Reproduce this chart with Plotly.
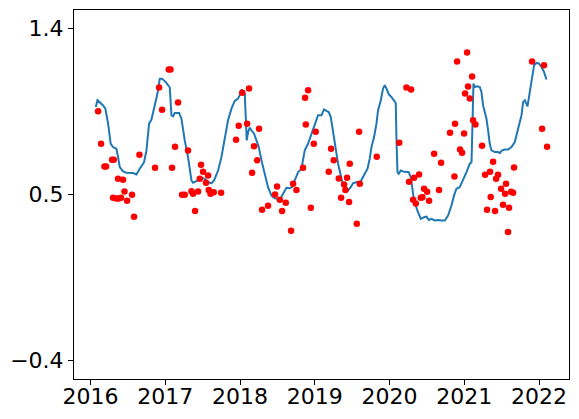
import plotly.graph_objects as go

# Smoothed series (decimal years)
line_x = [2016.071, 2016.094, 2016.169, 2016.200, 2016.236, 2016.271, 2016.302, 2016.347, 2016.369, 2016.392,
          2016.436, 2016.481, 2016.570, 2016.615, 2016.659, 2016.717, 2016.749, 2016.784, 2016.816, 2016.860,
          2016.896, 2016.927, 2016.958, 2017.016, 2017.061, 2017.083, 2017.105, 2017.127, 2017.185, 2017.217,
          2017.261, 2017.305, 2017.351, 2017.372, 2017.439, 2017.484, 2017.529, 2017.573, 2017.618, 2017.653,
          2017.707, 2017.752, 2017.796, 2017.840, 2017.886, 2017.930, 2017.974, 2017.997, 2018.020, 2018.041,
          2018.064, 2018.077, 2018.090, 2018.108, 2018.131, 2018.153, 2018.188, 2018.220, 2018.251, 2018.287,
          2018.331, 2018.375, 2018.421, 2018.465, 2018.509, 2018.545, 2018.576, 2018.621, 2018.665, 2018.696,
          2018.732, 2018.777, 2018.822, 2018.843, 2018.866, 2018.910, 2018.956, 2019.000, 2019.044, 2019.090,
          2019.124, 2019.156, 2019.187, 2019.214, 2019.245, 2019.277, 2019.312, 2019.348, 2019.378, 2019.410,
          2019.445, 2019.481, 2019.512, 2019.558, 2019.602, 2019.633, 2019.669, 2019.705, 2019.735, 2019.758,
          2019.793, 2019.825, 2019.846, 2019.883, 2019.913, 2019.936, 2019.959, 2019.990, 2020.026, 2020.061,
          2020.083, 2020.093, 2020.106, 2020.123, 2020.150, 2020.181, 2020.226, 2020.257, 2020.284, 2020.301,
          2020.328, 2020.373, 2020.418, 2020.462, 2020.494, 2020.525, 2020.561, 2020.605, 2020.649, 2020.694,
          2020.739, 2020.783, 2020.828, 2020.863, 2020.895, 2020.939, 2020.983, 2021.029, 2021.073, 2021.096,
          2021.104, 2021.113, 2021.122, 2021.140, 2021.176, 2021.207, 2021.229, 2021.251, 2021.274, 2021.296,
          2021.318, 2021.340, 2021.363, 2021.407, 2021.451, 2021.474, 2021.505, 2021.541, 2021.585, 2021.631,
          2021.675, 2021.719, 2021.765, 2021.786, 2021.809, 2021.845, 2021.875, 2021.906, 2021.933, 2021.965,
          2021.996, 2022.032, 2022.066, 2022.099]
line_y = [0.974, 1.011, 0.983, 0.965, 0.884, 0.775, 0.757, 0.748, 0.703, 0.648,
          0.625, 0.618, 0.616, 0.609, 0.640, 0.675, 0.739, 0.884, 0.906, 0.983,
          1.047, 1.128, 1.128, 1.105, 1.080, 0.930, 0.924, 0.942, 0.942, 0.911,
          0.793, 0.703, 0.576, 0.564, 0.576, 0.591, 0.585, 0.567, 0.561, 0.576,
          0.630, 0.703, 0.793, 0.902, 0.965, 1.007, 1.020, 1.038, 1.069, 1.056,
          1.047, 0.920, 0.793, 0.838, 0.862, 0.848, 0.830, 0.793, 0.757, 0.685,
          0.612, 0.540, 0.494, 0.480, 0.477, 0.480, 0.504, 0.536, 0.534, 0.540,
          0.576, 0.621, 0.640, 0.685, 0.739, 0.775, 0.830, 0.884, 0.930, 0.930,
          0.961, 0.953, 0.947, 0.920, 0.848, 0.757, 0.667, 0.594, 0.549, 0.531,
          0.522, 0.540, 0.561, 0.567, 0.561, 0.585, 0.612, 0.640, 0.694, 0.757,
          0.811, 0.884, 0.956, 1.011, 1.074, 1.092, 1.074, 1.043, 1.028, 1.011,
          0.996, 0.793, 0.621, 0.612, 0.630, 0.625, 0.623, 0.621, 0.594, 0.540,
          0.467, 0.413, 0.368, 0.377, 0.380, 0.362, 0.368, 0.359, 0.362, 0.359,
          0.359, 0.386, 0.440, 0.495, 0.531, 0.540, 0.576, 0.621, 0.667, 0.675,
          0.793, 0.974, 1.101, 1.083, 1.087, 1.083, 1.056, 0.983, 0.947, 0.911,
          0.848, 0.775, 0.739, 0.730, 0.730, 0.724, 0.739, 0.744, 0.744, 0.757,
          0.784, 0.848, 0.930, 1.001, 1.011, 0.978, 1.047, 1.137, 1.201, 1.213,
          1.210, 1.191, 1.164, 1.123]

# Observations (decimal years)
obs_x = [2016.102, 2016.142, 2016.187, 2016.209, 2016.289, 2016.312, 2016.302, 2016.347, 2016.378, 2016.409,
         2016.369, 2016.436, 2016.455, 2016.490, 2016.556, 2016.583, 2016.655, 2016.864, 2016.918, 2016.958,
         2017.047, 2017.070, 2017.091, 2017.131, 2017.172, 2017.305, 2017.225, 2017.261, 2017.351, 2017.372,
         2017.399, 2017.439, 2017.479, 2017.506, 2017.462, 2017.546, 2017.573, 2017.582, 2017.605, 2017.649,
         2017.747, 2017.947, 2017.983, 2018.030, 2018.121, 2018.095, 2018.255, 2018.188, 2018.228, 2018.162,
         2018.496, 2018.469, 2018.532, 2018.612, 2018.375, 2018.295, 2018.563, 2018.683, 2018.710, 2018.755,
         2018.843, 2018.880, 2018.871, 2018.911, 2019.013, 2018.987, 2018.947, 2019.218, 2019.254, 2019.187,
         2019.321, 2019.432, 2019.392, 2019.410, 2019.352, 2019.459, 2019.468, 2019.593, 2019.602, 2019.562,
         2019.829, 2020.130, 2020.226, 2020.288, 2020.328, 2020.395, 2020.261, 2020.315, 2020.351, 2020.462,
         2020.502, 2020.440, 2020.418, 2020.529, 2020.596, 2020.689, 2020.662, 2020.868, 2020.809, 2020.876,
         2020.997, 2020.943, 2020.970, 2020.903, 2021.037, 2021.104, 2021.050, 2021.010, 2021.073, 2021.117,
         2021.149, 2021.237, 2021.385, 2021.344, 2021.278, 2021.451, 2021.425, 2021.558, 2021.492, 2021.545,
         2021.625, 2021.652, 2021.665, 2021.353, 2021.304, 2021.411, 2021.518, 2021.598, 2021.585, 2021.906,
         2022.066, 2022.040, 2022.107]
obs_y = [0.951, 0.775, 0.652, 0.652, 0.688, 0.688, 0.482, 0.478, 0.478, 0.482,
         0.585, 0.580, 0.516, 0.466, 0.498, 0.380, 0.716, 0.645, 1.080, 0.960,
         1.177, 1.177, 0.645, 0.759, 0.998, 0.739, 0.498, 0.498, 0.518, 0.504,
         0.411, 0.516, 0.661, 0.623, 0.585, 0.564, 0.603, 0.525, 0.504, 0.512,
         0.509, 0.797, 0.873, 1.052, 1.074, 0.884, 0.857, 0.761, 0.685, 0.618,
         0.543, 0.500, 0.471, 0.455, 0.439, 0.417, 0.411, 0.303, 0.558, 0.525,
         0.645, 0.879, 1.025, 1.065, 0.840, 0.775, 0.428, 0.748, 0.685, 0.623,
         0.587, 0.591, 0.554, 0.525, 0.482, 0.460, 0.667, 0.840, 0.558, 0.341,
         0.705, 0.781, 1.080, 1.069, 0.591, 0.609, 0.569, 0.471, 0.451, 0.531,
         0.515, 0.485, 0.482, 0.466, 0.721, 0.672, 0.525, 0.598, 0.835, 0.884,
         0.830, 0.744, 0.726, 1.221, 1.270, 1.139, 1.085, 1.047, 1.020, 0.902,
         0.879, 0.764, 0.678, 0.623, 0.607, 0.607, 0.585, 0.558, 0.531, 0.504,
         0.515, 0.509, 0.647, 0.487, 0.417, 0.411, 0.444, 0.428, 0.297, 1.221,
         1.201, 0.857, 0.759]

x_ticks = [2016, 2017, 2018, 2019, 2020, 2021, 2022]
y_ticks = [1.4, 0.5, -0.4]
y_tick_text = ["1.4", "0.5", "\u22120.4"]

fig = go.Figure()
fig.add_trace(go.Scatter(x=line_x, y=line_y, mode="lines",
                         line=dict(color="#1f77b4", width=2), showlegend=False))
fig.add_trace(go.Scatter(x=obs_x, y=obs_y, mode="markers",
                         marker=dict(color="red", size=6.5, line=dict(width=0)), showlegend=False))

axis_common = dict(showgrid=False, zeroline=False, showline=True, linecolor="black", linewidth=1,
                   mirror=True, ticks="outside", ticklen=5, tickwidth=1, tickcolor="black",
                   automargin=False,
                   tickfont=dict(family="DejaVu Sans", size=22, color="black"))
fig.update_xaxes(range=[2015.78, 2022.40], tickvals=x_ticks, ticktext=[str(v) for v in x_ticks],
                 ticklabelstandoff=-7, **axis_common)
fig.update_yaxes(range=[-0.5, 1.5], tickvals=y_ticks, ticktext=y_tick_text, **axis_common)

fig.update_layout(width=579, height=419, margin=dict(l=74, r=10, t=10, b=40),
                  plot_bgcolor="white", paper_bgcolor="white",
                  font=dict(family="DejaVu Sans", color="black"))
fig.write_html("out.html")
